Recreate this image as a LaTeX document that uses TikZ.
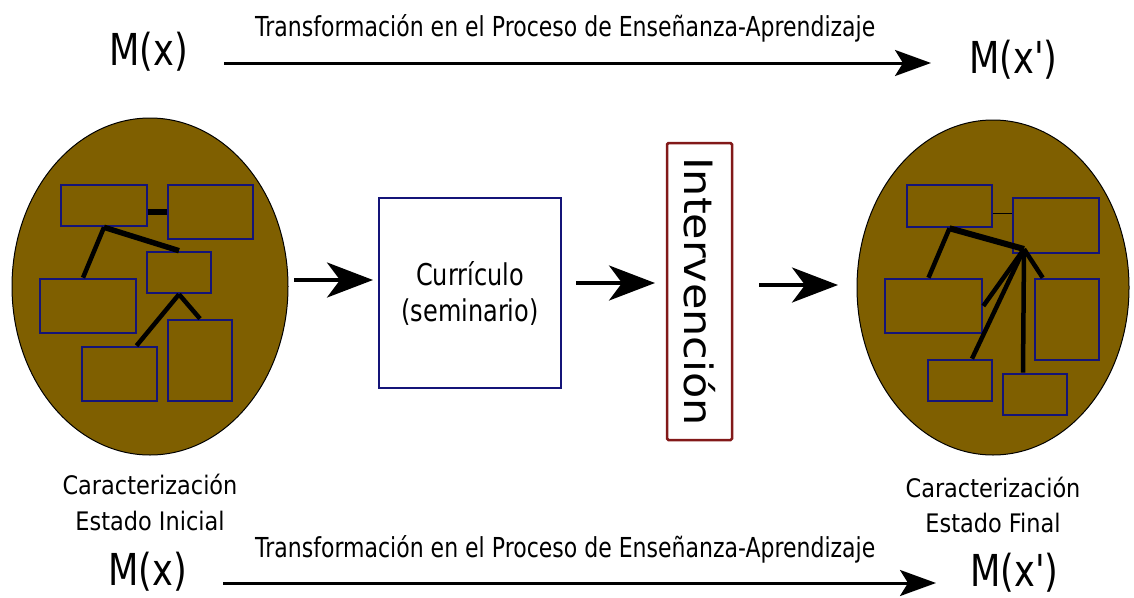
\documentclass[tikz,border=0pt]{standalone}
\usepackage{fontspec}
\setmainfont{DejaVu Sans}
\newfontfamily\cfa[FakeStretch=0.8]{DejaVu Sans}
\newfontfamily\cfb[FakeStretch=0.88]{DejaVu Sans}
\newfontfamily\cfc[FakeStretch=1.1]{DejaVu Sans}
\usetikzlibrary{shapes.geometric, arrows.meta}
\definecolor{brownfill}{RGB}{127,95,0}
\definecolor{navyb}{RGB}{20,20,120}
\definecolor{redb}{RGB}{130,25,25}
\begin{document}
\begin{tikzpicture}[x=1pt,y=-1pt,
  blob/.style={ellipse, draw=black, line width=1pt, fill=brownfill, inner sep=0pt},
  mini/.style={rectangle, draw=navyb, line width=2.6pt, inner sep=0pt},
  link/.style={line width=4.5pt},
  bigarr/.style={line width=3.8pt, -{Stealth[length=46pt,width=35pt,inset=13pt]}},
  longarr/.style={line width=3pt, -{Stealth[length=36pt,width=26pt,inset=8pt]}},
  lbl/.style={inner sep=0pt, anchor=base west, font=\cfa\fontsize{27.5}{33}\selectfont},
  mlbl/.style={inner sep=0pt, anchor=base west, font=\cfa\fontsize{44}{53}\selectfont},
  captxt/.style={inner sep=0pt, anchor=base, font=\cfb\fontsize{25.5}{30}\selectfont}
]
\useasboundingbox (0,0) rectangle (1134,597);

% top row
\node[lbl] (capT) at (255,36) {Transformación en el Proceso de Enseñanza-Aprendizaje};
\node[mlbl] (mxT) at (109,65) {M(x)};
\node[mlbl] (mxpT) at (969,73) {M(x')};
\coordinate (tA) at (224,63);
\coordinate (tB) at (931,63);
\draw[longarr] (tA) -- (tB);

% bottom row
\node[lbl] (capB) at (255,557) {Transformación en el Proceso de Enseñanza-Aprendizaje};
\node[mlbl] (mxB) at (108,585) {M(x)};
\node[mlbl] (mxpB) at (970,586) {M(x')};
\coordinate (bA) at (223,583);
\coordinate (bB) at (936,583);
\draw[longarr] (bA) -- (bB);

% ellipses
\node[blob, minimum width=276pt, minimum height=337pt] (L) at (150,286.5) {};
\node[blob, minimum width=272pt, minimum height=335pt] (Rt) at (993,287.5) {};

% left inner structure
\node[mini, minimum width=86pt, minimum height=41pt] (R1) at (104,205.5) {};
\node[mini, minimum width=85pt, minimum height=54pt] (R2) at (210.5,212) {};
\node[mini, minimum width=64pt, minimum height=41pt] (R3) at (179,272.5) {};
\node[mini, minimum width=96pt, minimum height=54pt] (R4) at (88,306) {};
\node[mini, minimum width=75pt, minimum height=54pt] (R5) at (119.5,374) {};
\node[mini, minimum width=64pt, minimum height=81pt] (R6) at (200,360.5) {};
\draw[line width=6pt] (R1.east |- R2.west) -- (R2.west);
\draw[line width=5.5pt] (R1.south) -- (R3.north);
\draw[link] (R1.south) -- ([xshift=-5pt]R4.north);
\draw[link] (R3.south) -- ([xshift=17pt]R5.north);
\draw[link] (R3.south) -- (R6.north);

% right inner structure
\node[mini, minimum width=85pt, minimum height=42pt] (S1) at (949.5,206) {};
\node[mini, minimum width=86pt, minimum height=55pt] (S2) at (1056,225.5) {};
\node[mini, minimum width=97pt, minimum height=54pt] (S3) at (933.5,306) {};
\node[mini, minimum width=64pt, minimum height=81pt] (S4) at (1067,319.5) {};
\node[mini, minimum width=64pt, minimum height=41pt] (S5) at (960,380.5) {};
\node[mini, minimum width=64pt, minimum height=41pt] (S6) at (1035,394.5) {};
\coordinate (hub) at (1024,249);
\draw[line width=1pt] (S1.east) ++(0,7) coordinate (t1) -- (t1 -| S2.west);
\draw[line width=6pt] (S1.south) -- (hub);
\draw[link] (S1.south) -- ([xshift=-5pt]S3.north);
\draw[link] (hub) -- ([xshift=9pt]S4.north west);
\draw[link] (hub) -- (S3.east);
\draw[link] (hub) -- ([xshift=12pt]S5.north);
\draw[link] (hub) -- ([xshift=-12pt]S6.north);

% captions
\node[captxt] (c1a) at (150,494) {Caracterización};
\node[captxt] (c1b) at (150,530) {Estado Inicial};
\node[captxt] (c2a) at (993,497) {Caracterización};
\node[captxt] (c2b) at (993,532) {Estado Final};

% middle boxes
\node[draw=navyb, line width=2.5pt, minimum width=182pt, minimum height=190pt,
      align=center, inner sep=0pt, font=\cfa\fontsize{30}{36}\selectfont] (cur) at (470,293) {Currículo\\(seminario)};
\node[draw=redb, line width=2.5pt, rounded corners=1.5pt, rotate=-90,
      minimum width=297pt, minimum height=65pt, inner sep=0pt,
      font=\cfc\fontsize{39}{47}\selectfont] (int) at (699.5,291.5) {Intervención};

% middle arrows
\coordinate (a1s) at (294,280);
\coordinate (a1e) at (373,280);
\coordinate (a2s) at (576,283);
\coordinate (a2e) at (655,283);
\coordinate (a3s) at (759,285);
\coordinate (a3e) at (838,285);
\draw[bigarr] (a1s) -- (a1e);
\draw[bigarr] (a2s) -- (a2e);
\draw[bigarr] (a3s) -- (a3e);
\end{tikzpicture}
\end{document}
